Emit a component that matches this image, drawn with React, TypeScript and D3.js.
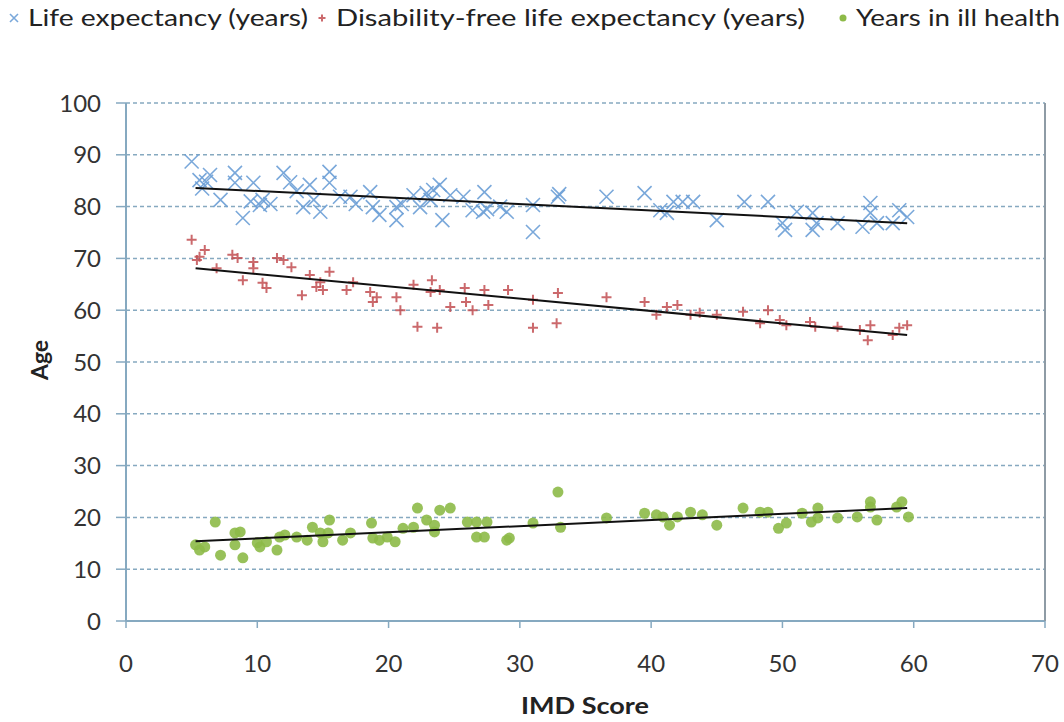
import React from "react";
import * as d3 from "d3";

const lifeExpectancy: [number, number][] = [
  [5.0, 88.7], [5.6, 85.1], [5.8, 83.5], [6.1, 84.8], [6.4, 86.1], [7.2, 81.3], [8.3, 86.5], [8.3, 84.6],
  [8.9, 77.8], [9.5, 81.0], [9.7, 84.6], [10.2, 80.3], [10.4, 81.3], [11.0, 80.5], [12.0, 86.5], [12.5, 84.7],
  [13.0, 83.0], [13.5, 79.9], [14.0, 84.2], [14.3, 81.3], [14.8, 79.0], [15.5, 86.7], [15.5, 84.6], [16.3, 81.9],
  [17.1, 81.9], [17.5, 80.5], [18.6, 82.8], [18.8, 79.9], [19.3, 78.4], [20.6, 77.4], [20.6, 79.9], [21.0, 80.5],
  [21.9, 82.2], [22.4, 79.9], [22.9, 82.6], [23.2, 81.3], [23.4, 83.2], [23.9, 84.2], [24.1, 77.4], [24.7, 82.2],
  [25.7, 81.9], [26.4, 79.3], [27.2, 79.0], [27.3, 82.8], [27.5, 79.5], [28.5, 80.0], [29.0, 79.0], [31.0, 80.3],
  [31.0, 75.1], [32.9, 81.9], [33.0, 82.4], [36.6, 81.9], [39.5, 82.6], [40.7, 79.3], [41.2, 78.8], [41.7, 80.9],
  [42.4, 80.9], [43.2, 80.9], [45.0, 77.4], [47.1, 80.9], [48.9, 80.9], [50.0, 76.8], [50.2, 75.5], [51.1, 79.0],
  [52.3, 78.8], [52.3, 75.5], [52.6, 76.8], [54.2, 76.8], [56.1, 76.1], [56.7, 80.7], [56.7, 78.8], [57.2, 76.8],
  [58.4, 76.8], [58.9, 79.3], [59.5, 78.0],
];

const disabilityFree: [number, number][] = [
  [5.0, 73.6], [6.0, 71.6], [5.6, 70.3], [5.4, 69.7], [6.9, 68.1], [8.1, 70.7], [8.5, 70.1], [8.9, 65.8],
  [9.7, 69.3], [9.7, 68.1], [10.4, 65.3], [10.7, 64.3], [11.5, 70.1], [12.0, 69.7], [12.6, 68.3], [13.4, 62.9],
  [14.0, 66.8], [14.5, 64.5], [15.0, 63.9], [15.5, 67.4], [14.8, 65.4], [16.8, 63.9], [17.3, 65.4], [18.6, 63.5],
  [19.1, 62.5], [18.8, 61.6], [20.6, 62.5], [20.9, 60.0], [21.9, 64.9], [22.2, 56.8], [23.3, 65.8], [23.2, 63.5],
  [23.9, 63.9], [23.7, 56.6], [24.7, 60.6], [25.8, 64.3], [25.9, 61.6], [26.4, 60.0], [27.3, 63.9], [27.6, 61.0],
  [29.1, 63.9], [31.0, 62.0], [31.0, 56.6], [32.9, 63.3], [32.8, 57.5], [36.6, 62.5], [39.5, 61.6], [40.4, 59.1],
  [41.2, 60.6], [42.0, 61.0], [43.0, 59.1], [43.7, 59.5], [45.0, 59.1], [47.0, 59.7], [48.9, 60.0], [48.3, 57.5],
  [49.8, 58.1], [50.3, 57.1], [52.1, 57.7], [52.5, 56.8], [54.2, 56.8], [55.9, 56.2], [56.7, 57.1], [56.5, 54.2],
  [58.4, 55.2], [59.5, 57.1], [58.9, 56.6],
];

const illHealth: [number, number][] = [
  [5.3, 14.7], [5.6, 13.7], [6.0, 14.3], [6.8, 19.1], [7.2, 12.7], [8.3, 17.0], [8.7, 17.2], [8.3, 14.7],
  [8.9, 12.2], [10.0, 15.1], [10.2, 14.3], [10.7, 15.3], [11.5, 13.7], [11.7, 16.2], [12.1, 16.6], [13.0, 16.2],
  [13.8, 15.6], [14.2, 18.1], [14.8, 17.0], [15.0, 15.3], [15.5, 19.5], [15.4, 17.0], [16.5, 15.6], [17.1, 17.0],
  [18.7, 18.9], [18.8, 16.0], [19.3, 15.6], [19.9, 16.2], [20.5, 15.3], [21.1, 17.9], [21.9, 18.1], [22.2, 21.8],
  [22.9, 19.5], [23.5, 18.5], [23.9, 21.4], [24.7, 21.8], [23.5, 17.2], [26.0, 19.1], [26.7, 19.1], [27.5, 19.1],
  [26.7, 16.2], [27.3, 16.2], [29.0, 15.6], [29.2, 16.0], [31.0, 18.9], [32.9, 24.9], [33.1, 18.1], [36.6, 19.9],
  [39.5, 20.8], [40.4, 20.5], [40.9, 20.1], [41.4, 18.5], [42.0, 20.1], [43.0, 21.0], [43.9, 20.5], [45.0, 18.5],
  [47.0, 21.8], [48.3, 21.0], [48.9, 21.0], [49.7, 17.9], [50.3, 18.9], [51.5, 20.8], [52.2, 19.1], [52.7, 21.8],
  [52.7, 19.9], [54.2, 19.9], [55.7, 20.1], [56.7, 23.0], [56.7, 22.0], [57.2, 19.5], [59.1, 23.0], [58.7, 22.0],
  [59.6, 20.1],
];

const trendLife: [number, number][] = [[5.3, 83.6], [59.5, 76.8]];
const trendFree: [number, number][] = [[5.3, 68.1], [59.5, 55.2]];
const trendIll: [number, number][] = [[5.3, 15.4], [59.5, 21.8]];

const xTicks = [0, 10, 20, 30, 40, 50, 60, 70];
const yTicks = [0, 10, 20, 30, 40, 50, 60, 70, 80, 90, 100];
const legendLabels = ["Life expectancy (years)", "Disability-free life expectancy (years)", "Years in ill health"];

const W = 1064, H = 722;
const left = 126, right = 1045, top = 103, bottom = 621;
const FONT = "Lato, 'Open Sans', sans-serif";
const BLUE = "#6b9fd6";
const RED = "#c24f52";
const GREEN = "#8dba48";
const AXIS = "#86a9c0";

export default function App() {
  const x = d3.scaleLinear().domain([0, 70]).range([left, right]);
  const y = d3.scaleLinear().domain([0, 100]).range([bottom, top]);
  const line = d3.line<[number, number]>().x(d => x(d[0])).y(d => y(d[1]));

  const cross = (cx: number, cy: number, s: number, key: string | number, color: string) => (
    <path key={key} d={`M${cx - s},${cy - s}L${cx + s},${cy + s}M${cx - s},${cy + s}L${cx + s},${cy - s}`}
      stroke={color} strokeWidth={1.6} fill="none" opacity={0.9} />
  );
  const plus = (cx: number, cy: number, s: number, key: string | number, color: string) => (
    <path key={key} d={`M${cx - s},${cy}L${cx + s},${cy}M${cx},${cy - s}L${cx},${cy + s}`}
      stroke={color} strokeWidth={2} fill="none" opacity={0.85} />
  );

  return (
    <svg width={W} height={H} style={{ position: "absolute", left: 0, top: 0, background: "#fff" }}
      fontFamily={FONT}>
      {/* legend */}
      <g fontSize={23} fill="#222">
        {cross(14, 18, 4, "l1", BLUE)}
        <text x={28} y={26} textLength={280} lengthAdjust="spacingAndGlyphs">{legendLabels[0]}</text>
        {plus(322, 18, 3.5, "l2", RED)}
        <text x={336} y={26} textLength={469} lengthAdjust="spacingAndGlyphs">{legendLabels[1]}</text>
        <circle cx={843} cy={18} r={3.5} fill={GREEN} />
        <text x={856} y={26} textLength={204} lengthAdjust="spacingAndGlyphs">{legendLabels[2]}</text>
      </g>

      {/* gridlines */}
      {yTicks.filter(t => t > 0).map(t => (
        <line key={"g" + t} x1={left} x2={right} y1={y(t)} y2={y(t)} stroke={AXIS}
          strokeWidth={1.5} strokeDasharray="4,3" />
      ))}
      {/* axes */}
      <line x1={left} x2={left} y1={top} y2={bottom} stroke={AXIS} strokeWidth={2} />
      <line x1={left} x2={right} y1={bottom} y2={bottom} stroke={AXIS} strokeWidth={2} />
      <line x1={right} x2={right} y1={top} y2={bottom} stroke="#8e9ba5" strokeWidth={2} />
      {yTicks.map(t => (
        <g key={"yt" + t}>
          <line x1={left - 10} x2={left} y1={y(t)} y2={y(t)} stroke={AXIS} strokeWidth={1.5} />
          <text x={101} y={y(t)} dy="0.36em" textAnchor="end" fontSize={24} fill="#333">{t}</text>
        </g>
      ))}
      {xTicks.map(t => (
        <g key={"xt" + t}>
          <line x1={x(t)} x2={x(t)} y1={bottom} y2={bottom + 7} stroke={AXIS} strokeWidth={1.5} />
          <text x={x(t)} y={663} dy="0.36em" textAnchor="middle" fontSize={24} fill="#333">{t}</text>
        </g>
      ))}
      <text x={585} y={706} dy="0.36em" textAnchor="middle" fontSize={23} fontWeight="bold" fill="#222"
        textLength={128} lengthAdjust="spacingAndGlyphs">IMD Score</text>
      <text transform={`translate(40,360) rotate(-90)`} dy="0.36em" textAnchor="middle" fontSize={23}
        fontWeight="bold" fill="#222">Age</text>

      {/* points */}
      {lifeExpectancy.map((d, i) => cross(x(d[0]), y(d[1]), 7, "b" + i, BLUE))}
      {disabilityFree.map((d, i) => plus(x(d[0]), y(d[1]), 5, "r" + i, RED))}
      {illHealth.map((d, i) => (
        <circle key={"g" + i} cx={x(d[0])} cy={y(d[1])} r={5.5} fill={GREEN} opacity={0.9} />
      ))}

      {/* trend lines */}
      <path d={line(trendLife) || ""} stroke="#111" strokeWidth={2} fill="none" />
      <path d={line(trendFree) || ""} stroke="#111" strokeWidth={2} fill="none" />
      <path d={line(trendIll) || ""} stroke="#111" strokeWidth={2} fill="none" />
    </svg>
  );
}
